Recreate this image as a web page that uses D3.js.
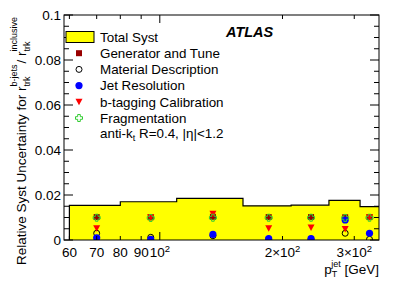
<!DOCTYPE html>
<html><head><meta charset="utf-8">
<script src="https://cdn.jsdelivr.net/npm/d3@7"></script>
<style>
body{margin:0;background:#fff}
svg{display:block;font-family:"Liberation Sans",Arial,Helvetica,sans-serif}
</style>
</head><body>
<svg id="c" width="399" height="286"></svg>
<script>
// ---- data ----
const binEdges = [60, 80, 110, 160, 210, 260, 310, 400];
const totalSyst = [0.0154, 0.0170, 0.0185, 0.0152, 0.0155, 0.0176, 0.0148];
const ptCenters = [70, 95, 135, 185, 235, 285, 327];
const generatorTune = [0.0102, 0.0101, 0.0103, 0.0102, 0.0102, 0.0101, 0.0102];
const materialDesc = [0.0030, 0.0012, 0.0019, 0.0004, 0.0004, 0.0030, 0.0003];
const jetResolution = [0.0010, 0.0003, 0.0025, 0.0006, 0.0006, 0.0089, 0.0030];
const btagCalib = [0.0052, 0.0101, 0.0117, 0.0052, 0.0056, 0.0049, 0.0101];
const fragmentation = [0.0099, 0.0098, 0.0099, 0.0099, 0.0099, 0.0098, 0.0099];
const yMajorTicks = [0, 0.02, 0.04, 0.06, 0.08, 0.1];
const yTickLabels = ["0", "0.02", "0.04", "0.06", "0.08", "0.1"];
const xTicks = [60, 70, 80, 90, 100, 200, 300];
const xTickLabels = [["60"], ["70"], ["80"], ["90"], ["10", "2"], ["2\u00d710", "2"], ["3\u00d710", "2"]];
const legendLabels = ["Total Syst", "Generator and Tune", "Material Description", "Jet Resolution", "b-tagging Calibration", "Fragmentation"];

const svg = d3.select("#c");
const L = 64, R = 379, T = 15, B = 240;
const x = d3.scaleLog().domain([58.2, 345]).range([L, R]);
const y = d3.scaleLinear().domain([0, 0.1]).range([B, T]);

svg.append("defs").append("clipPath").attr("id", "clip")
  .append("rect").attr("x", L).attr("y", T).attr("width", R - L).attr("height", B - T);

// band
const stepPts = [];
totalSyst.forEach((v, i) => { stepPts.push([binEdges[i], v]); stepPts.push([binEdges[i + 1], v]); });
const g = svg.append("g").attr("clip-path", "url(#clip)");
g.append("path").datum(stepPts)
  .attr("d", d3.area().x(d => x(d[0])).y0(y(0)).y1(d => y(d[1])))
  .attr("fill", "#ffff00");
const outline = [[binEdges[0], 0]].concat(stepPts);
g.append("path").datum(outline)
  .attr("d", d3.line().x(d => x(d[0])).y(d => y(d[1])))
  .attr("fill", "none").attr("stroke", "#000").attr("stroke-width", 1.2);

// markers
function drawMarker(sel, type) {
  if (type === "sq") sel.append("rect").attr("x", -3).attr("y", -3).attr("width", 6).attr("height", 6).attr("fill", "#990000");
  if (type === "oc") sel.append("circle").attr("r", 3).attr("fill", "none").attr("stroke", "#000").attr("stroke-width", 1);
  if (type === "bc") sel.append("circle").attr("r", 3.6).attr("fill", "#0000ff");
  if (type === "tri") sel.append("path").attr("d", "M-3.5,-3L3.5,-3L0,3.5Z").attr("fill", "#ff0000");
  if (type === "cr") sel.append("path").attr("d", "M-1.3,-3.5H1.3V-1.3H3.5V1.3H1.3V3.5H-1.3V1.3H-3.5V-1.3H-1.3Z")
    .attr("fill", "none").attr("stroke", "#33cc33").attr("stroke-width", 1);
}
const series = [[generatorTune, "sq"], [materialDesc, "oc"], [jetResolution, "bc"], [btagCalib, "tri"], [fragmentation, "cr"]];
series.forEach(([vals, type]) => {
  vals.forEach((v, i) => {
    const m = g.append("g").attr("transform", `translate(${x(ptCenters[i])},${y(v)})`);
    drawMarker(m, type);
  });
});

// frame
svg.append("rect").attr("x", L).attr("y", T).attr("width", R - L).attr("height", B - T)
  .attr("fill", "none").attr("stroke", "#000").attr("stroke-width", 1);

// y ticks
const yMinor = d3.range(0, 0.1001, 0.005);
yMinor.forEach(v => {
  const major = yMajorTicks.some(t => Math.abs(t - v) < 1e-9);
  const len = major ? 9 : 5;
  svg.append("line").attr("x1", L).attr("x2", L + len).attr("y1", y(v)).attr("y2", y(v)).attr("stroke", "#000");
  svg.append("line").attr("x1", R).attr("x2", R - len).attr("y1", y(v)).attr("y2", y(v)).attr("stroke", "#000");
});
yMajorTicks.forEach((v, i) => {
  svg.append("text").attr("x", L - 3).attr("y", y(v) + 4.5).attr("text-anchor", "end")
    .attr("font-size", 13.5).text(yTickLabels[i]);
});

// x ticks
xTicks.forEach((v, i) => {
  const len = v === 100 ? 8 : 4;
  svg.append("line").attr("x1", x(v)).attr("x2", x(v)).attr("y1", B).attr("y2", B - len).attr("stroke", "#000");
  svg.append("line").attr("x1", x(v)).attr("x2", x(v)).attr("y1", T).attr("y2", T + len).attr("stroke", "#000");
  const lab = xTickLabels[i];
  const t = svg.append("text").attr("x", x(v)).attr("y", 257).attr("text-anchor", "middle").attr("font-size", 13.5);
  t.append("tspan").text(lab[0]);
  if (lab[1]) t.append("tspan").attr("dy", -5).attr("font-size", 9.5).text(lab[1]);
});

// x title
const xt = svg.append("text").attr("x", R).attr("y", 274).attr("text-anchor", "end").attr("font-size", 13.5);
xt.append("tspan").text("p");
const xtSub = xt.append("tspan").attr("font-size", 9).attr("dy", 3).text("T");
xt.append("tspan").attr("font-size", 9).attr("dx", -6).attr("dy", -10).text("jet");
xt.append("tspan").attr("dy", 7).text(" [GeV]");

// y title (rotated)
const yt = svg.append("g").attr("transform", "translate(26,265) rotate(-90)");
let cx = 0;
function piece(txt, size, dy) {
  const el = yt.append("text").attr("x", cx).attr("y", dy).attr("font-size", size).text(txt);
  const w = el.node().getComputedTextLength();
  return w;
}
cx += piece("Relative Syst Uncertainty for r", 13.5, 0);
const w1 = piece("b-jets", 9, -9);
piece("trk", 9, 4);
cx += w1 + 1;
cx += piece(" / r", 13.5, 0);
const w2 = piece("inclusive", 9, -9);
piece("trk", 9, 4);

// ATLAS
svg.append("text").attr("x", 226).attr("y", 37).attr("font-size", 14.5).attr("font-weight", "bold")
  .attr("font-style", "italic").text("ATLAS");

// legend
const lx = 79, ly0 = 37, ldy = 16.2;
svg.append("rect").attr("x", 66).attr("y", 31.5).attr("width", 28).attr("height", 11)
  .attr("fill", "#ffff00").attr("stroke", "#000").attr("stroke-width", 1);
const ltypes = ["sq", "oc", "bc", "tri", "cr"];
legendLabels.forEach((lab, i) => {
  const cy = ly0 + i * ldy;
  svg.append("text").attr("x", 100).attr("y", cy + 4.8).attr("font-size", 13.4).text(lab);
  if (i > 0) {
    const m = svg.append("g").attr("transform", `translate(${lx},${cy})`);
    drawMarker(m, ltypes[i - 1]);
  }
});
const ak = svg.append("text").attr("x", 100).attr("y", ly0 + 6 * ldy + 3.5).attr("font-size", 13.4);
ak.append("tspan").text("anti-k");
ak.append("tspan").attr("font-size", 9).attr("dy", 3).text("t");
ak.append("tspan").attr("dy", -3).text(" R=0.4, |\u03b7|<1.2");
</script>
</body></html>
